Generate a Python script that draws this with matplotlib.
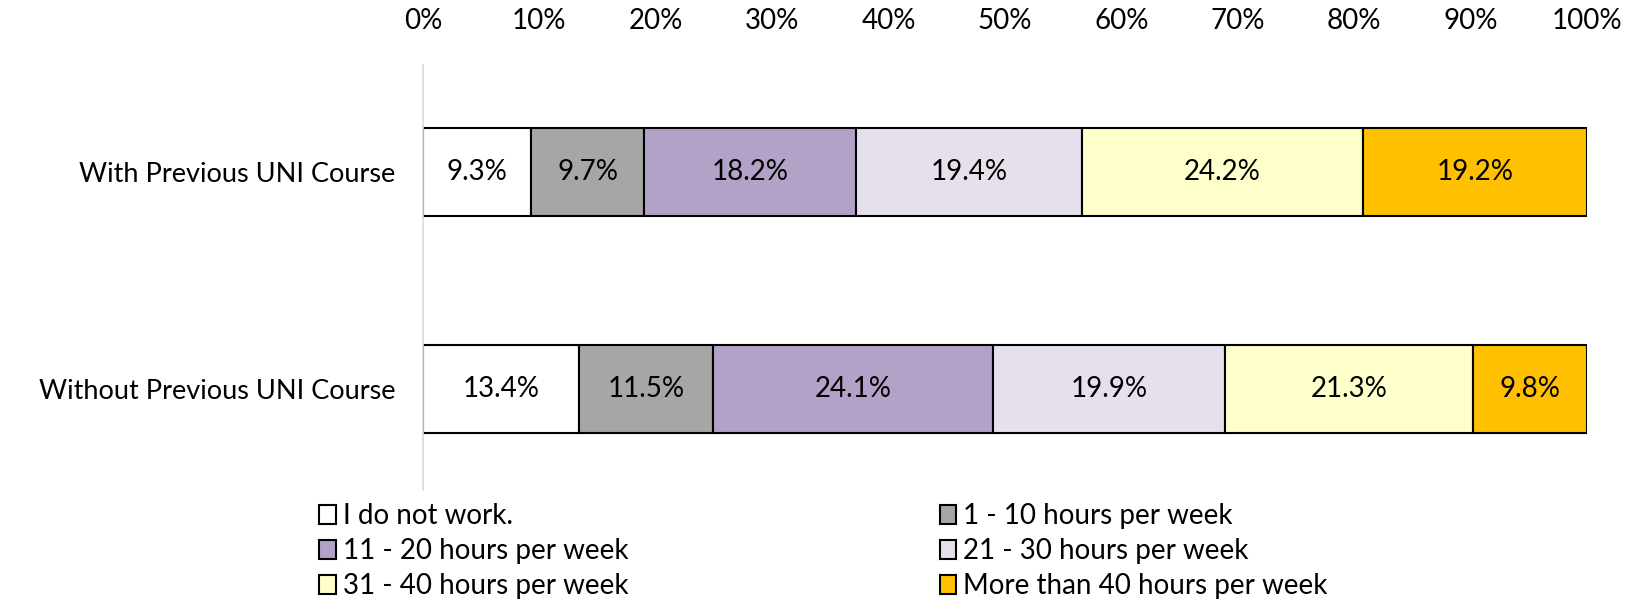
import matplotlib
matplotlib.use("Agg")
import matplotlib.pyplot as plt
import numpy as np

plt.rcParams['font.family'] = ['Lato', 'DejaVu Sans']

groups = ['With Previous UNI Course', 'Without Previous UNI Course']
series = ['I do not work.', '1 - 10 hours per week', '11 - 20 hours per week',
          '21 - 30 hours per week', '31 - 40 hours per week', 'More than 40 hours per week']
values = [[9.3, 13.4],
          [9.7, 11.5],
          [18.2, 24.1],
          [19.4, 19.9],
          [24.2, 21.3],
          [19.2, 9.8]]
colors = ['#FFFFFF', '#A6A6A6', '#B3A2C7', '#E6E0EC', '#FFFFCC', '#FFC000']

fs = 20
fig = plt.figure(figsize=(16.35, 6), dpi=100)
ax = fig.add_axes([0.2587, 0.1833, 0.7119, 0.7084])

y = np.arange(len(groups))
left = np.zeros(len(groups))
handles = []
for name, vals, c in zip(series, values, colors):
    vals = np.array(vals)
    b = ax.barh(y, vals, left=left, height=0.405, color=c, edgecolor='black',
                linewidth=1.5, label=name)
    handles.append(b)
    for yi, l, v in zip(y, left, vals):
        ax.text(l + v / 2, yi, f'{v:.1f}%', ha='center', va='center', fontsize=fs)
    left += vals

ax.set_xlim(0, 100)
ax.set_ylim(1.465, -0.493)
ax.set_yticks(y)
ax.set_yticklabels(groups, fontsize=19.5)
ax.set_xticks(np.arange(0, 101, 10))
ax.set_xticklabels([f'{t}%' for t in range(0, 101, 10)], fontsize=fs)
ax.xaxis.tick_top()
ax.tick_params(axis='y', length=0, pad=20)
ax.tick_params(axis='x', length=0, pad=22)
for s in ['top', 'right', 'bottom']:
    ax.spines[s].set_visible(False)
ax.spines['left'].set_color('#D9D9D9')
ax.spines['left'].set_linewidth(1.2)

order = [0, 2, 4, 1, 3, 5]
leg = fig.legend([handles[i] for i in order], [series[i] for i in order],
                 ncol=2, loc='lower left', bbox_to_anchor=(0.18, -0.04),
                 frameon=False, fontsize=fs, handlelength=0.6, handleheight=0.7,
                 handletextpad=0.25, columnspacing=11.2, labelspacing=0.32)

fig.savefig('out.png', dpi=100)
